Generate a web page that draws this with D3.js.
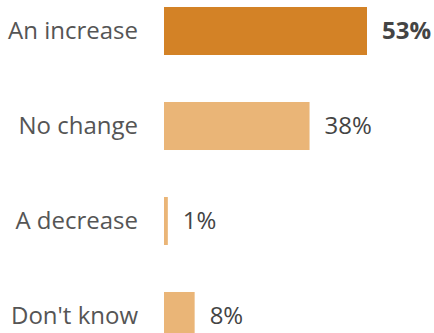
<!DOCTYPE html>
<html>
<head>
<meta charset="utf-8">
<script src="https://cdn.jsdelivr.net/npm/d3@7/dist/d3.min.js"></script>
<style>
  html, body { margin: 0; padding: 0; background: #fff; }
  svg { display: block; font-family: "Open Sans", sans-serif; }
</style>
</head>
<body>
<svg id="chart" width="434" height="333"></svg>
<script>
const categories = ["An increase", "No change", "A decrease", "Don't know"];
const values = [53, 38, 1, 8];
const valueLabels = ["53%", "38%", "1%", "8%"];
const highlight = [true, false, false, false];

const svg = d3.select("#chart");
const barLeft = 164;

const x = d3.scaleLinear().domain([0, 53]).range([barLeft, 367]);
const y = d3.scaleBand().domain(categories).range([7, 340]).paddingInner(0.4947).paddingOuter(0);

const rows = svg.selectAll("g.row")
  .data(categories.map((c, i) => ({ c, v: values[i], label: valueLabels[i], hi: highlight[i] })))
  .join("g")
  .attr("class", "row");

rows.append("rect")
  .attr("x", x(0))
  .attr("y", d => y(d.c))
  .attr("width", d => x(d.v) - x(0))
  .attr("height", y.bandwidth())
  .attr("fill", d => d.hi ? "#d38226" : "#eab577");

rows.append("text")
  .attr("x", 138)
  .attr("y", d => y(d.c) + y.bandwidth() / 2)
  .attr("dy", "0.35em")
  .attr("text-anchor", "end")
  .attr("fill", "#555")
  .style("font-size", "24px")
  .text(d => d.c);

rows.append("text")
  .attr("x", d => x(d.v) + 15)
  .attr("y", d => y(d.c) + y.bandwidth() / 2)
  .attr("dy", "0.35em")
  .attr("fill", "#444")
  .style("font-size", "24px")
  .style("font-weight", d => d.hi ? "bold" : "normal")
  .text(d => d.label);
</script>
</body>
</html>
